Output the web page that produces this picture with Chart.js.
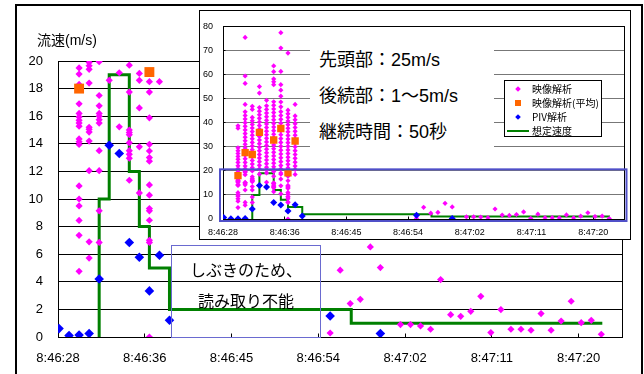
<!DOCTYPE html>
<html>
<head>
<meta charset="utf-8">
<script src="https://cdn.jsdelivr.net/npm/chart.js@4.4.1/dist/chart.umd.min.js"></script>
<style>
  html, body { margin: 0; padding: 0; background: #fff; }
  body { width: 644px; height: 374px; position: relative; overflow: hidden;
         font-family: 'Liberation Sans', 'Noto Sans CJK JP', sans-serif; color: #000; }
  #frame { position: absolute; left: 15px; top: 4px; width: 628px; height: 390px;
           border: 2px solid #000; box-sizing: border-box; }
  #main { position: absolute; left: 0; top: 0; }
  #yTitle { position: absolute; left: 37px; top: 32px; font-size: 14px; line-height: 17px; white-space: nowrap; }
  #note { position: absolute; left: 171px; top: 245px; width: 150px; height: 93px;
          border: 1px solid #6a6ad0; box-sizing: border-box; }
  #note div { position: absolute; left: 0; width: 100%; text-align: center; font-size: 16px;
              line-height: 20px; font-family: 'Noto Sans CJK JP', sans-serif; white-space: nowrap; }
  #inset { position: absolute; left: 199px; top: 10px; width: 432px; height: 230px;
           border: 1px solid #000; box-sizing: border-box; background: #fff; }
  #insetCanvas { position: absolute; left: 0; top: 0; }
  #facts { position: absolute; left: 310px; top: 36px; width: 184px; height: 114px; background: #fff; }
  #facts div { position: absolute; left: 9px; font-size: 18px; line-height: 22px; white-space: nowrap; }
  #legend { position: absolute; left: 504px; top: 80px; width: 98px; height: 57px;
            border: 1px solid #000; box-sizing: border-box; background: #fff; }
  .row { position: absolute; left: 0; height: 14px; width: 100%; }
  .row span.t { position: absolute; left: 27px; top: 0; font-size: 10px; line-height: 14px;
                font-family: 'Noto Sans CJK JP', sans-serif; white-space: nowrap; }
  .mk { position: absolute; }
</style>
</head>
<body>
<div id="frame"></div>
<canvas id="main" width="644" height="374"></canvas>
<div id="yTitle">流速(m/s)</div>
<div id="note"><div style="top:13px">しぶきのため、</div><div style="top:44px">読み取り不能</div></div>
<div id="inset"><canvas id="insetCanvas" width="430" height="228"></canvas></div>
<div id="facts">
  <div style="top:13px">先頭部：25m/s</div>
  <div style="top:49px">後続部：1〜5m/s</div>
  <div style="top:85px">継続時間：50秒</div>
</div>
<div id="legend"></div>
<script>
// time axis: seconds after 8:46:28, Excel major unit 0.0001 day
const tickLabels = ['8:46:28', '8:46:36', '8:46:45', '8:46:54', '8:47:02', '8:47:11', '8:47:20'];
const tickStep = 8.64;
const xMax = 6.5 * tickStep;
const mainMax = 20;
const insetMax = 80;

// 映像解析: frames during the splash, many readings per frame
const frameTimes = [2.1, 3.1, 4.1, 5.1, 6.1, 7.1, 8.1, 9.1, 10.1];
const frameSpeeds = [
  [38.7, 37.7, 29.6, 28.4, 27.2, 26.0, 24.8, 23.5, 22.1, 20.9,
   19.5, 19.05, 18.3, 16.9, 16.2, 15.95, 15.7, 15.5, 15.28, 14.35, 14.15, 13.95, 10.95, 10.0, 9.5, 8.45, 7.37, 4.76],
  [75.4, 59.4, 56.3, 47.6, 44.5, 43.0, 41.5, 40.0, 38.5, 37.0, 35.5, 34.0, 32.5, 31.0, 29.5, 28.0, 26.5, 25.0, 23.5, 22.0, 20.8,
   19.9, 19.65, 19.4, 18.4, 15.2, 15.05, 14.85, 14.2, 12.05, 6.9, 5.72],
  [46.8, 45.5, 42.2, 40.8, 39.3, 37.8, 36.3, 34.8, 33.3, 31.8, 30.3, 28.8, 27.3, 25.8, 24.3, 22.8, 21.3,
   19.95, 17.5, 16.75, 16.2, 16.0, 15.75, 15.5, 13.5, 12.05, 9.14, 6.85],
  [55.0, 52.3, 46.3, 44.8, 43.3, 41.8, 40.3, 38.8, 37.3, 35.8, 34.3, 32.8, 31.3, 29.8, 28.3, 26.8, 25.3, 23.8, 22.3, 20.8,
   18.6],
  [49.3, 47.0, 45.5, 44.0, 42.5, 41.0, 39.5, 38.0, 36.5, 35.0, 33.5, 32.0, 30.5, 29.0, 27.5, 26.0, 24.5, 23.0, 21.5, 20.4,
   19.15, 15.23],
  [63.6, 61.2, 58.2, 57.0, 55.8, 48.7, 47.2, 45.7, 44.2, 42.7, 41.2, 39.7, 38.2, 36.7, 35.2, 33.7, 32.2, 30.7, 29.2, 27.7, 26.2, 24.7, 23.2, 21.7, 20.5,
   19.7, 17.75, 15.0, 14.82, 14.66, 14.07, 13.5, 13.24, 12.96, 11.36],
  [77.4, 71.0, 61.3, 55.8, 53.5, 51.0, 48.6, 46.6, 44.6, 43.0, 41.4, 39.8, 38.2, 36.6, 35.0, 33.4, 31.8, 30.2, 28.6, 27.0, 25.4, 23.8, 22.2, 20.8,
   19.1, 18.6, 16.6, 13.78, 10.44],
  [68.9, 45.2, 43.7, 42.2, 40.7, 39.2, 37.7, 36.2, 34.7, 33.2, 31.7, 30.2, 28.7, 27.2, 25.7, 24.2, 22.7, 21.2,
   18.5, 17.75, 15.88, 13.96, 13.48, 13.0, 12.74, 11.02, 10.28, 9.31, 9.14, 8.46, 7.01, 6.85, 0.0],
  [47.6, 42.8, 41.2, 39.6, 38.0, 36.4, 34.8, 33.2, 31.6, 30.0, 28.4, 26.8, 25.2, 23.6, 22.0, 20.6,
   18.5]
];
// 映像解析 after the splash, one reading per frame
const lateTimes = [27.1, 28.1, 29.1, 30.1, 31.1, 32.1, 34.1, 35.1, 36.1, 37.1, 38.1, 39.1, 40.1, 41.1,
                   42.1, 43.1, 44.1, 45.1, 46.1, 47.1, 48.1, 49.1, 50.1, 51.1, 52.1, 53.1, 54.1];
const lateSpeeds = [0.29, 4.84, 2.42, 2.73, 6.53, 5.03, 0.9, 0.9, 0.8, 0.56, 4.16, 1.62, 1.5, 1.86,
                    2.95, 0.32, 1.99, 0.56, 0.56, 0.49, 1.7, 0.49, 1.16, 2.59, 1.04, 1.21, 0.2];

// 映像解析(平均)
const avgTimes = [2.1, 3.1, 4.1, 5.1, 7.1, 8.1, 9.1, 10.1];
const avgSpeeds = [18.0, 27.6, 26.8, 36.0, 32.8, 37.6, 19.2, 32.4];

// PIV解析
const pivTimes = [0.1, 1.1, 2.1, 3.1, 4.1, 5.1, 6.1, 7.1, 8.1, 9.1, 10.1, 11.1, 27.1, 32.1];
const pivSpeeds = [0.61, 0.1, 0.15, 0.25, 4.2, 13.9, 13.3, 6.85, 5.78, 3.34, 5.92, 1.21, 1.52, 0.25];

// 想定速度 (step line, value held until the next time)
const stepTimes = [4.1, 4.1, 5.1, 7.1, 8.1, 9.1, 11.1, 29.2, 54.2];
const stepSpeeds = [0, 10, 19, 12, 8, 5, 2, 1, 1];

const seriesNames = ['映像解析', '映像解析(平均)', 'PIV解析', '想定速度'];
const colors = ['#FF00FF', '#FF6600', '#0000FF', '#008000'];
const FONT = "'Liberation Sans', Arial, sans-serif";

const zip = (xs, ys) => xs.map((x, i) => ({ x, y: ys[i] }));
const imgPoints = frameTimes.flatMap((t, i) => frameSpeeds[i].map(v => ({ x: t, y: v })))
  .concat(zip(lateTimes, lateSpeeds));
const avgPoints = zip(avgTimes, avgSpeeds);
const pivPoints = zip(pivTimes, pivSpeeds);
const stepPoints = zip(stepTimes, stepSpeeds);

function makeSets(big) {
  // Excel leaves out markers above the axis maximum
  const keep = p => !big || p.y <= mainMax;
  return [
    { label: seriesNames[0], data: imgPoints.filter(keep), pointStyle: 'rectRot',
      pointRadius: big ? 3.6 : 2.6, backgroundColor: colors[0], borderWidth: 0, order: 3 },
    { label: seriesNames[1], data: avgPoints.filter(keep), pointStyle: 'rect',
      pointRadius: big ? 7 : 5.2, backgroundColor: colors[1], borderWidth: 0, order: 2 },
    { label: seriesNames[2], data: pivPoints.filter(keep), pointStyle: 'rectRot',
      pointRadius: big ? 4.8 : 3.5, backgroundColor: colors[2], borderWidth: 0, order: 1 },
    { label: seriesNames[3], type: 'line', data: stepPoints, stepped: 'before', showLine: true,
      borderColor: colors[3], borderWidth: big ? 3 : 2, pointRadius: 0, fill: false, order: 4 }
  ];
}

const align = p => Math.round(p - 0.5) + 0.5;

/* plot border, inside tick marks, zoom box */
const framePlugin = {
  id: 'frame',
  beforeDatasetsDraw(chart, args, opts) {
    const { ctx, chartArea: a, scales: { x, y } } = chart;
    const L = align(a.left), R = align(a.right), T = align(a.top), B = align(a.bottom);
    ctx.save();
    ctx.strokeStyle = '#000';
    ctx.lineWidth = 1;
    ctx.strokeRect(L, T, R - L, B - T);
    ctx.beginPath();
    x.ticks.forEach((t, i) => {
      const px = align(x.getPixelForTick(i));
      ctx.moveTo(px, B); ctx.lineTo(px, B - opts.tick);
    });
    y.ticks.forEach((t, i) => {
      const py = align(y.getPixelForTick(i));
      ctx.moveTo(L, py); ctx.lineTo(L + opts.tick - 1, py);
    });
    ctx.stroke();
    ctx.restore();
  },
  afterDatasetsDraw(chart, args, opts) {
    if (!opts.box) return;
    const { ctx, chartArea: a, scales: { y } } = chart;
    const yTop = y.getPixelForValue(opts.box), y0 = y.getPixelForValue(0);
    ctx.save();
    ctx.strokeStyle = '#5050c8';
    ctx.lineWidth = 2;
    ctx.strokeRect(a.left - 3, yTop - 1.5, a.right - a.left + 5.5, y0 - yTop + 3.5);
    ctx.restore();
  }
};

function makeChart(canvas, big) {
  const fs = big ? 13 : 9;
  return new Chart(canvas, {
    type: 'scatter',
    data: { datasets: makeSets(big) },
    options: {
      responsive: false, animation: false, events: [],
      layout: { padding: big ? { left: 0, top: 61, right: 22, bottom: 0 } : { left: 0, top: 11, right: 6, bottom: 0 } },
      plugins: {
        legend: { display: false }, tooltip: { enabled: false },
        frame: { tick: big ? 4 : 3, box: big ? 0 : mainMax }
      },
      scales: {
        x: {
          type: 'linear', min: 0, max: xMax,
          grid: { display: false }, border: { display: false },
          afterBuildTicks: s => { s.ticks = tickLabels.map((_, i) => ({ value: i * tickStep })); },
          afterFit: s => { s.height = big ? 37 : 20; },
          ticks: { callback: (v, i) => tickLabels[i], color: '#000', autoSkip: false, maxRotation: 0,
                   font: { size: fs, family: FONT }, padding: big ? 6 : 0 }
        },
        y: {
          min: 0, max: big ? mainMax : insetMax,
          afterFit: s => { s.width = big ? 58 : 23; },
          grid: { color: big ? '#000' : '#777', drawTicks: false }, border: { display: false },
          ticks: { stepSize: big ? 2 : 10, color: '#000', font: { size: fs, family: FONT }, padding: big ? 15 : 10 }
        }
      }
    },
    plugins: [framePlugin]
  });
}

makeChart(document.getElementById('main'), true);
makeChart(document.getElementById('insetCanvas'), false);

// legend of the inset, built from the series names
const legend = document.getElementById('legend');
const markers = [
  'left:11px;top:5px;width:4px;height:4px;background:' + colors[0] + ';transform:rotate(45deg)',
  'left:10px;top:4px;width:6px;height:6px;background:' + colors[1],
  'left:11px;top:5px;width:4px;height:4px;background:' + colors[2] + ';transform:rotate(45deg)',
  'left:2px;top:6px;width:22px;height:2px;background:' + colors[3]
];
seriesNames.forEach((name, i) => {
  const row = document.createElement('div');
  row.className = 'row';
  row.style.top = (1 + i * 14) + 'px';
  row.innerHTML = '<span class="mk" style="' + markers[i] + '"></span><span class="t">' + name + '</span>';
  legend.appendChild(row);
});
</script>
</body>
</html>
